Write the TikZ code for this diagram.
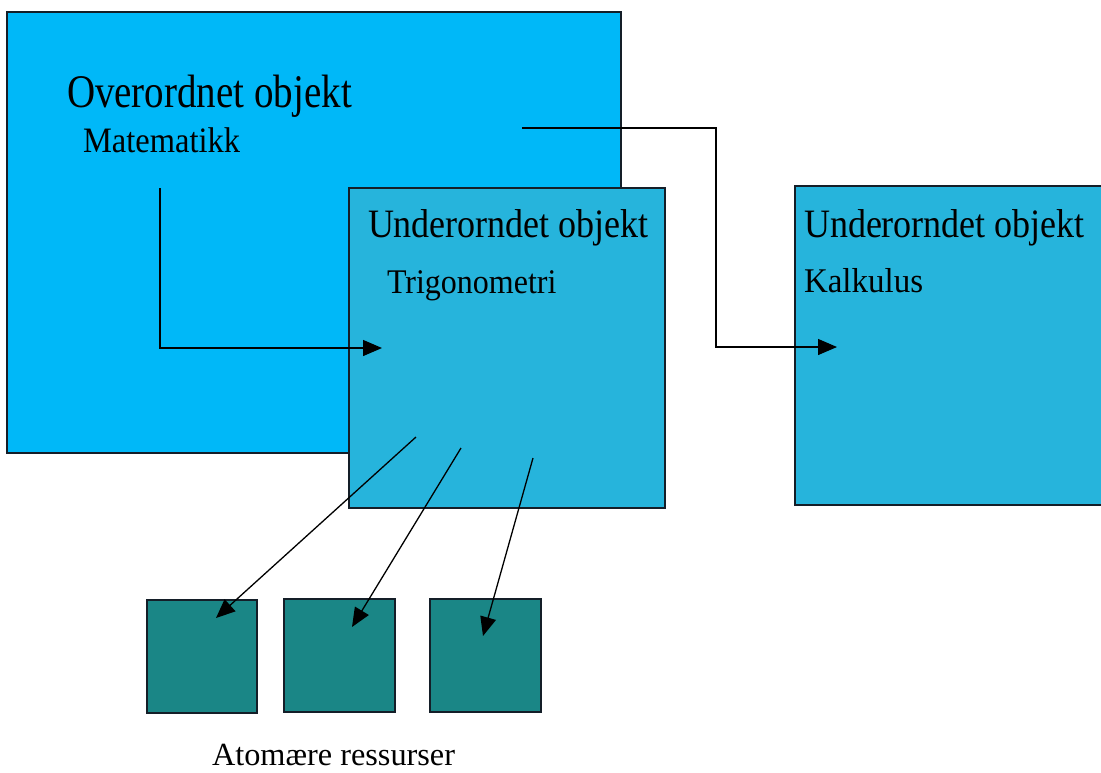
\documentclass[tikz,border=0pt]{standalone}
\usepackage{fontspec}
\setmainfont{Liberation Serif}
\usetikzlibrary{arrows.meta}
\definecolor{outerblue}{RGB}{0,184,248}
\definecolor{innerblue}{RGB}{38,180,220}
\definecolor{tealbox}{RGB}{26,134,134}
\definecolor{edgecol}{RGB}{20,30,40}
\begin{document}
\begin{tikzpicture}[x=1pt,y=-1pt,
  box/.style={draw=edgecol,line width=1.4pt,inner sep=0pt,outer sep=0pt,anchor=north west},
  lbl/.style={inner sep=0pt,outer sep=0pt,anchor=base west,text=black},
  conn/.style={draw=black,line width=1.3pt,-{Triangle[length=19pt,width=16pt]}}]
\useasboundingbox (0,0) rectangle (1101,772);
% boxes
\node[box,fill=outerblue,minimum width=614pt,minimum height=441pt] (over) at (7,12) {};
\node[box,fill=innerblue,minimum width=316pt,minimum height=320pt] (trig) at (349,188) {};
\node[box,fill=innerblue,minimum width=312pt,minimum height=319pt] (kalk) at (795,186) {};
\node[box,fill=tealbox,minimum width=110pt,minimum height=113pt] (r1) at (147,600) {};
\node[box,fill=tealbox,minimum width=111pt,minimum height=113pt] (r2) at (284,599) {};
\node[box,fill=tealbox,minimum width=111pt,minimum height=113pt] (r3) at (430,599) {};
% labels
\node[lbl,font=\fontsize{39}{39}\selectfont] (t1) at (67,107) {\scalebox{1}[1.2]{Overordnet objekt}};
\node[lbl,font=\fontsize{32.5}{32.5}\selectfont] (t2) at (83,152) {\scalebox{1}[1.1]{Matematikk}};
\node[lbl,font=\fontsize{36}{36}\selectfont] (t3) at (368,237) {\scalebox{1}[1.12]{Underorndet objekt}};
\node[lbl,font=\fontsize{32}{32}\selectfont] (t4) at (387,293) {\scalebox{1}[1.08]{Trigonometri}};
\node[lbl,font=\fontsize{36}{36}\selectfont] (t5) at (804,237) {\scalebox{1}[1.12]{Underorndet objekt}};
\node[lbl,font=\fontsize{33}{33}\selectfont] (t6) at (804,292) {\scalebox{1}[1.05]{Kalkulus}};
\node[lbl,font=\fontsize{32.3}{32.3}\selectfont] (t7) at (212,765) {Atomære ressurser};
% connector endpoints
\coordinate (m0) at (160,188);
\coordinate (m1) at (382,348);
\coordinate (k0) at (522,128);
\coordinate (kmid) at (716,240);
\coordinate (k1) at (837,347);
\coordinate (a1s) at (416,437);
\coordinate (a1e) at (216,618);
\coordinate (a2s) at (461,448);
\coordinate (a2e) at (352,627);
\coordinate (a3s) at (533,458);
\coordinate (a3e) at (483,636);
% connectors
\draw[conn] (m0) |- (m1);
\draw[conn] (k0) -| (kmid) |- (k1);
\draw[conn] (a1s) -- (a1e);
\draw[conn] (a2s) -- (a2e);
\draw[conn] (a3s) -- (a3e);
\end{tikzpicture}
\end{document}
